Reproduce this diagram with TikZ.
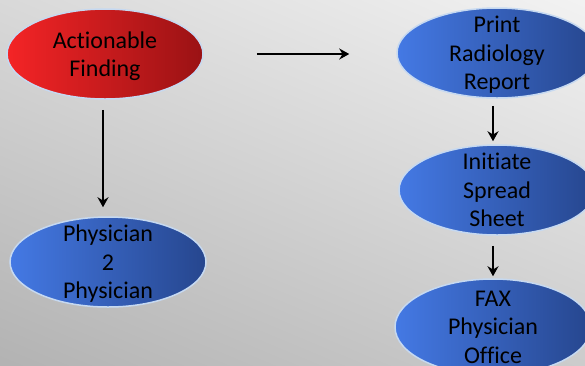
\documentclass[tikz,border=0pt]{standalone}
\usepackage{fontspec}
\setmainfont{Carlito}[RawFeature=-liga]
\usetikzlibrary{shapes.geometric,arrows.meta,shadings}
\definecolor{redlight}{HTML}{F42426}
\definecolor{reddark}{HTML}{9A1214}
\definecolor{bluelight}{HTML}{4479E4}
\definecolor{bluedark}{HTML}{26468E}
\definecolor{rim}{HTML}{C6D9F1}
\begin{document}
\begin{tikzpicture}[x=1pt,y=-1pt,
  oval/.style={ellipse,draw=rim,line width=1.5pt,minimum width=196pt,minimum height=90pt,
    inner xsep=0pt,inner ysep=-20pt,text depth=0pt,align=center,font=\fontsize{24}{28.5}\selectfont},
  blueoval/.style={oval,left color=bluelight,right color=bluedark},
  redoval/.style={oval,left color=redlight,right color=reddark},
  flow/.style={line width=2.2pt,-{Stealth[length=10pt,width=11pt]}}]
\useasboundingbox (0,0) rectangle (585,365);
\clip (0,0) rectangle (585,365);
\shade[upper left=black!15,upper right=black!5,lower left=black!30,lower right=black!20] (0,0) rectangle (585,365);
% left column
\node[redoval] (finding) at (105,54) {Actionable\\Finding};
\node[blueoval] (p2p) at (108,262) {Physician\\2\\Physician};
% right column
\node[blueoval,minimum width=200pt] (print) at (497,53) {Print\\Radiology\\Report};
\node[blueoval] (sheet) at (497,190) {Initiate\\Spread\\Sheet};
\node[blueoval,minimum height=96pt] (fax) at (493,327) {FAX\\Physician\\Office};
\draw[flow,shorten <=10pt,shorten >=9pt] (finding.south -| 103,0) -- (p2p.north -| 103,0);
\draw[flow,shorten <=53pt,shorten >=47pt] (finding) -- (print.west |- finding);
\draw[flow,shorten <=7pt,shorten >=3pt] (print.south -| 493,0) -- (sheet.north -| 493,0);
\draw[flow,shorten <=10pt,shorten >=2pt] (sheet.south -| 493,0) -- (fax.north);
\end{tikzpicture}
\end{document}
